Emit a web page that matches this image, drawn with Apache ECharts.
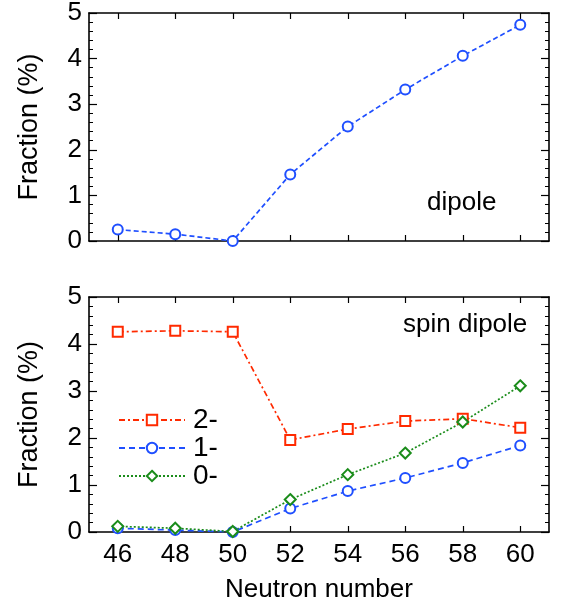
<!DOCTYPE html>
<html>
<head>
<meta charset="utf-8">
<script src="https://cdn.jsdelivr.net/npm/echarts@6/dist/echarts.min.js"></script>
<style>
  html, body { margin: 0; padding: 0; background: #fff; }
  #chart { width: 565px; height: 607px; }
</style>
</head>
<body>
<div id="chart"></div>
<script>
// neutron numbers
var neutrons = [46, 48, 50, 52, 54, 56, 58, 60];
// fractions in %
var dipole = [0.25, 0.15, 0.0, 1.46, 2.51, 3.32, 4.06, 4.74];
var sd2 = [4.26, 4.28, 4.26, 1.96, 2.19, 2.36, 2.41, 2.22];
var sd1 = [0.08, 0.04, 0.0, 0.50, 0.87, 1.15, 1.47, 1.84];
var sd0 = [0.12, 0.08, 0.01, 0.69, 1.22, 1.68, 2.34, 3.11];
var xTicks = [46, 48, 50, 52, 54, 56, 58, 60];

var font = 'Liberation Sans';
var ink = '#000';
var RED = '#ff2a00', BLUE = '#1f4fff', GREEN = '#1a8c1a';

function pairs(ys) {
  return neutrons.map(function (x, i) { return [x, ys[i]]; });
}

function xAxis(grid, pos, labels) {
  return {
    type: 'value', gridIndex: grid, position: pos, min: 45, max: 61,
    axisLine: { show: true, onZero: false, lineStyle: { color: ink, width: 1.6 } },
    axisTick: { show: true, inside: true, length: 6, customValues: xTicks, lineStyle: { color: ink, width: 1.2 } },
    axisLabel: { show: labels, customValues: xTicks, fontFamily: font, fontSize: 26, color: '#000', margin: 10 },
    splitLine: { show: false },
    name: labels ? 'Neutron number' : '', nameLocation: 'middle', nameGap: 45,
    nameTextStyle: { fontFamily: font, fontSize: 26, color: '#000' }
  };
}

function yAxis(grid, pos, labels) {
  return {
    type: 'value', gridIndex: grid, position: pos, min: 0, max: 5, interval: 1,
    axisLine: { show: true, lineStyle: { color: ink, width: 1.6 } },
    axisTick: { show: true, inside: true, length: 8, lineStyle: { color: ink, width: 1.2 } },
    minorTick: { show: true, splitNumber: 5, length: 4, lineStyle: { color: ink, width: 1 } },
    axisLabel: { show: labels, fontFamily: font, fontSize: 26, color: '#000', margin: 7 },
    splitLine: { show: false },
    name: labels ? 'Fraction (%)' : '', nameLocation: 'middle', nameGap: 46, nameRotate: 90,
    nameTextStyle: { fontFamily: font, fontSize: 27, color: '#000' }
  };
}

function line(name, data, x, y, color, dash, symbol, size) {
  return {
    name: name, type: 'line', xAxisIndex: x, yAxisIndex: y, data: pairs(data),
    symbol: symbol, symbolSize: size, showSymbol: true,
    lineStyle: { color: color, width: 1.7, type: dash },
    itemStyle: { color: color, borderColor: color, borderWidth: 1.7 },
    animation: false
  };
}

var chart = echarts.init(document.getElementById('chart'), null, { renderer: 'canvas' });
chart.setOption({
  animation: false,
  backgroundColor: '#fff',
  grid: [
    { left: 89, top: 12, width: 460, height: 229 },
    { left: 89, top: 297, width: 460, height: 235 }
  ],
  xAxis: [
    xAxis(0, 'bottom', false), xAxis(0, 'top', false),
    xAxis(1, 'bottom', true), xAxis(1, 'top', false)
  ],
  yAxis: [
    yAxis(0, 'left', true), yAxis(0, 'right', false),
    yAxis(1, 'left', true), yAxis(1, 'right', false)
  ],
  legend: {
    data: ['2-', '1-', '0-'], orient: 'vertical', left: 118, top: 406, padding: 0,
    itemWidth: 66, itemHeight: 13, itemGap: 0,
    textStyle: { fontFamily: font, fontSize: 28, lineHeight: 22, color: '#000', padding: [0, 0, 0, 3] }
  },
  graphic: [
    { type: 'text', left: 427, top: 190, style: { text: 'dipole', font: '26px "Liberation Sans"', fill: '#000' } },
    { type: 'text', left: 403, top: 312, style: { text: 'spin dipole', font: '26px "Liberation Sans"', fill: '#000' } }
  ],
  series: [
    line('dipole', dipole, 0, 0, BLUE, [5, 3], 'emptyCircle', 10),
    line('2-', sd2, 2, 2, RED, [6, 3, 2, 3], 'emptyRect', 10),
    line('1-', sd1, 2, 2, BLUE, [6, 4], 'emptyCircle', 10),
    line('0-', sd0, 2, 2, GREEN, [2, 2], 'emptyDiamond', 11)
  ]
});
</script>
</body>
</html>
